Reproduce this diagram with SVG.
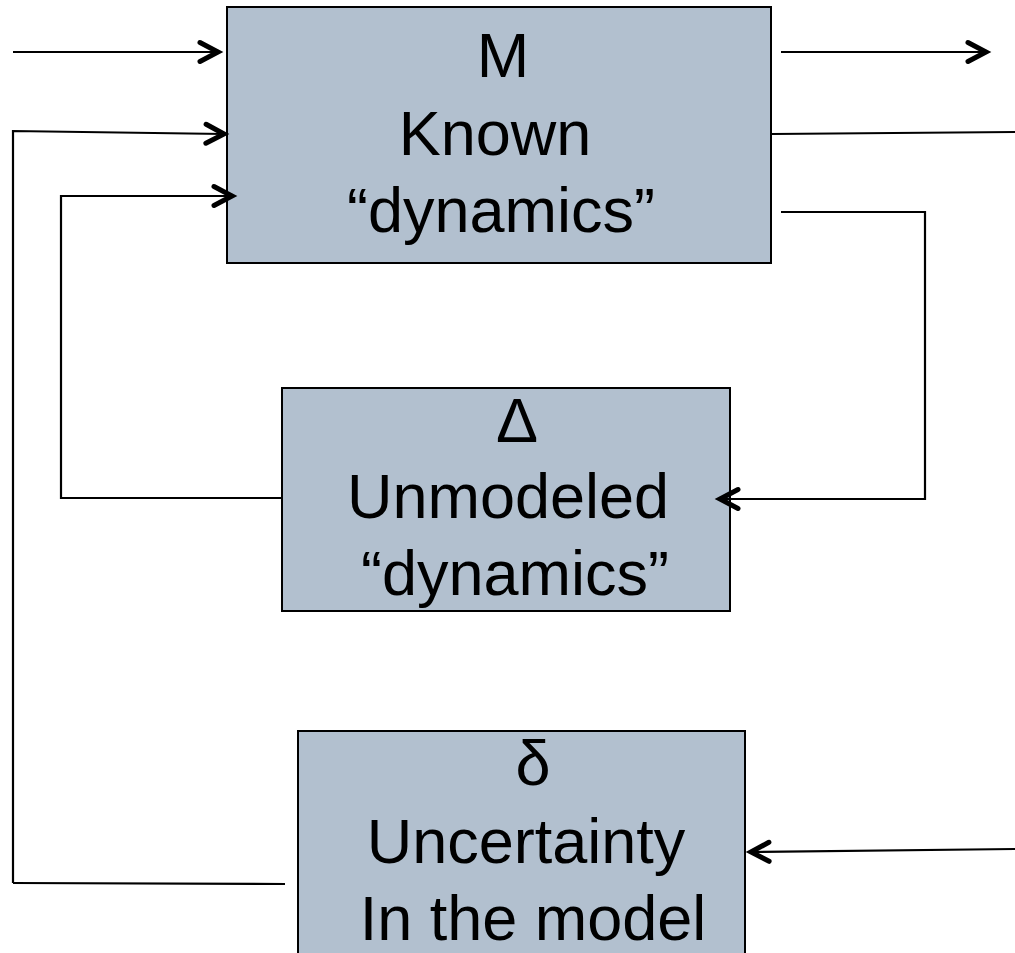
<svg xmlns="http://www.w3.org/2000/svg" width="1015" height="953" viewBox="0 0 1015 953">
<defs>
<marker id="ah" markerUnits="userSpaceOnUse" markerWidth="50" markerHeight="50" viewBox="-25 -25 50 50" refX="0" refY="0" orient="auto">
<path d="M-18,-9.5 L0,0 L-18,9.5" fill="none" stroke="#000" stroke-width="5" stroke-linecap="round" stroke-linejoin="miter"/>
</marker>
</defs>
<style>
.box{fill:#b2c0cf;stroke:#000;stroke-width:2}
.t{font-family:"Liberation Sans",Arial,sans-serif;font-size:63px;fill:#000;text-anchor:middle}
.c{fill:none;stroke:#000;stroke-width:2.2}
</style>
<rect width="1015" height="953" fill="#fff"/>
<g id="node-M">
<rect class="box" x="227" y="7" width="544" height="256"/>
<text class="t" x="503" y="77">M</text>
<text class="t" x="495" y="155">Known</text>
<text class="t" x="501" y="232">“dynamics”</text>
</g>
<g id="node-Delta">
<rect class="box" x="282" y="388" width="448" height="223"/>
<text class="t" x="517" y="442">Δ</text>
<text class="t" x="508" y="518">Unmodeled</text>
<text class="t" x="515" y="595">“dynamics”</text>
</g>
<g id="node-delta">
<rect class="box" x="298" y="731" width="447" height="240"/>
<text class="t" x="533" y="785">δ</text>
<text class="t" x="526" y="863">Uncertainty</text>
<text class="t" x="533" y="940">In the model</text>
</g>
<g id="connectors">
<line class="c" x1="13" y1="52" x2="218" y2="52" marker-end="url(#ah)"/>
<polyline class="c" points="13,883 13,131 224,134" marker-end="url(#ah)"/>
<polyline class="c" points="282,498 61,498 61,196 232,196" marker-end="url(#ah)"/>
<line class="c" x1="781" y1="52" x2="986" y2="52" marker-end="url(#ah)"/>
<line class="c" x1="772" y1="134" x2="1015" y2="132"/>
<polyline class="c" points="781,212 925,212 925,499 720,499" marker-end="url(#ah)"/>
<line class="c" x1="285" y1="884" x2="13" y2="883"/>
<line class="c" x1="1015" y1="849" x2="751" y2="852" marker-end="url(#ah)"/>
</g>
</svg>
